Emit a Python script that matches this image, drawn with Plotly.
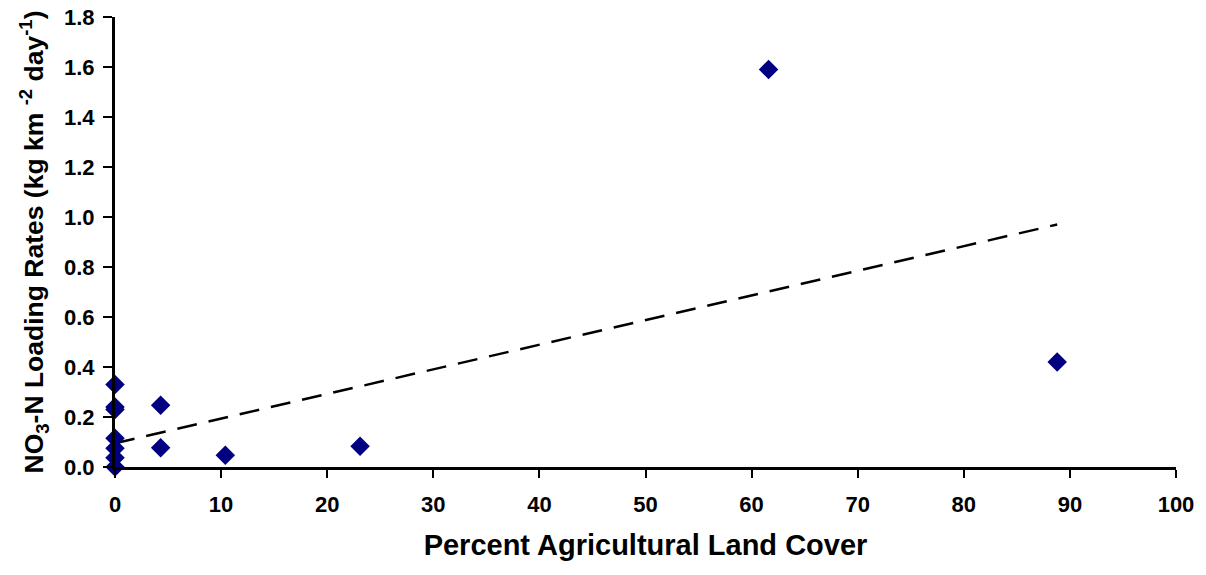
import plotly.graph_objects as go

# Data
agri_pct = [0, 0, 0, 0, 0, 0, 0, 4.3, 4.3, 10.4, 23.1, 61.6, 88.8]
no3_rate = [0.33, 0.24, 0.23, 0.115, 0.075, 0.037, 0.0, 0.247, 0.077, 0.047, 0.083, 1.59, 0.42]

# Linear trendline endpoints (as drawn in the reference)
trend_x = [0, 88.8]
trend_y = [0.095, 0.97]

x_ticks = [0, 10, 20, 30, 40, 50, 60, 70, 80, 90, 100]
y_ticks = [0.0, 0.2, 0.4, 0.6, 0.8, 1.0, 1.2, 1.4, 1.6, 1.8]

FONT = "Liberation Sans, Arial, sans-serif"

fig = go.Figure()
fig.add_trace(go.Scatter(
    x=trend_x, y=trend_y, mode="lines",
    line=dict(color="black", width=2.5, dash="20px,12px"),
    showlegend=False, hoverinfo="skip", cliponaxis=False,
))
fig.add_trace(go.Scatter(
    x=agri_pct, y=no3_rate, mode="markers",
    marker=dict(symbol="diamond", size=15, color="#000080",
                line=dict(width=0)),
    showlegend=False, cliponaxis=False,
))

fig.update_layout(
    width=1206, height=575,
    margin=dict(l=115, r=30, t=17, b=108),
    plot_bgcolor="white", paper_bgcolor="white",
    font=dict(family=FONT, color="black"),
    xaxis=dict(
        range=[0, 100], tickvals=x_ticks,
        ticktext=[str(v) for v in x_ticks],
        showgrid=False, zeroline=False, automargin=False,
        showline=True, linecolor="black", linewidth=3,
        ticks="outside", ticklen=8, tickwidth=2, tickcolor="black",
        tickfont=dict(family=FONT, size=22, color="black", weight="bold"),
        ticklabelstandoff=8,
        title=dict(text="<b>Percent Agricultural Land Cover</b>",
                   font=dict(family=FONT, size=29, color="black"),
                   standoff=19),
    ),
    yaxis=dict(
        range=[0, 1.8], tickvals=y_ticks,
        ticktext=[f"{v:.1f}" for v in y_ticks],
        showgrid=False, zeroline=False, automargin=False,
        showline=True, linecolor="black", linewidth=3,
        ticks="outside", ticklen=9, tickwidth=2, tickcolor="black",
        tickfont=dict(family=FONT, size=22, color="black", weight="bold"),
        ticklabelstandoff=4,
        title=dict(text="<b>NO<sub>3</sub>-N Loading Rates (kg km <sup>-2</sup> day<sup>-1</sup>)</b>",
                   font=dict(family=FONT, size=26.5, color="black"),
                   standoff=13),
    ),
)

fig.write_html("out.html")
